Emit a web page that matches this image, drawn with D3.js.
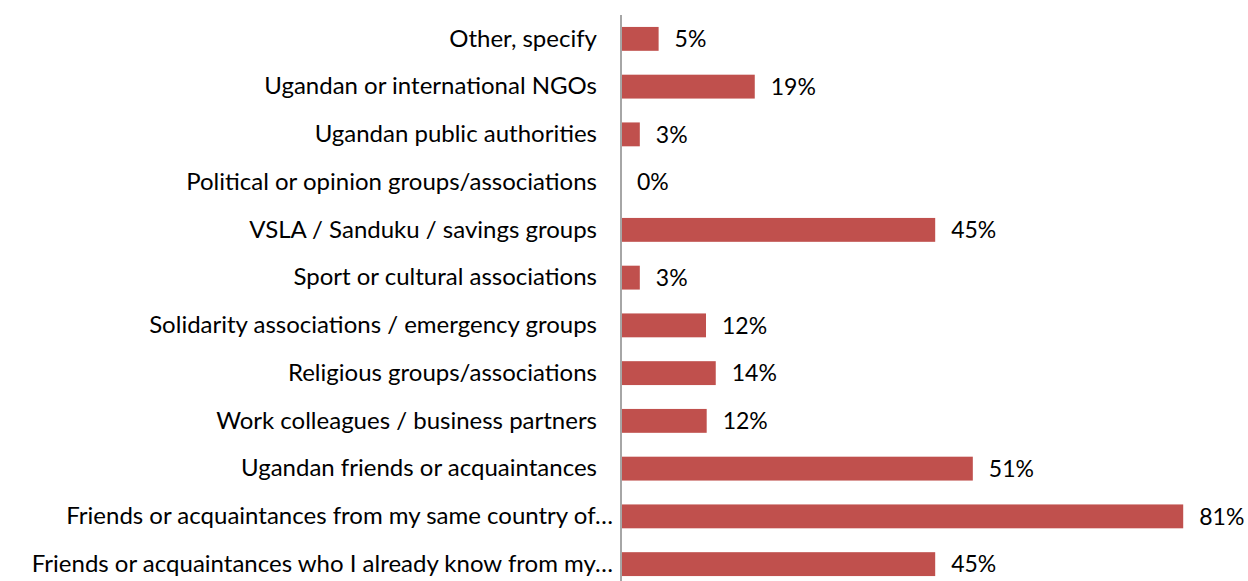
<!DOCTYPE html>
<html>
<head>
<meta charset="utf-8">
<script src="https://cdn.jsdelivr.net/npm/d3@7"></script>
<style>
  body { margin: 0; background: #fff; }
  text { font-family: Lato, "Open Sans", sans-serif; fill: #000; }
</style>
</head>
<body>
<div id="chart"></div>
<script>
// categories, top to bottom
var categories = [
    "Other, specify",
    "Ugandan or international NGOs",
    "Ugandan public authorities",
    "Political or opinion groups/associations",
    "VSLA / Sanduku / savings groups",
    "Sport or cultural associations",
    "Solidarity associations / emergency groups",
    "Religious groups/associations",
    "Work colleagues / business partners",
    "Ugandan friends or acquaintances",
    "Friends or acquaintances from my same country of\u2026",
    "Friends or acquaintances who I already know from my\u2026"
]
// share of respondents (%)
var shares = [5.4, 19.2, 2.7, 0, 45.1, 2.7, 12.2, 13.6, 12.3, 50.5, 80.7, 45.1]
// shown labels
var shareLabels = ["5%", "19%", "3%", "0%", "45%", "3%", "12%", "14%", "12%", "51%", "81%", "45%"]

var data = categories.map(function(c, i) {
    return {cat: c, value: shares[i], label: shareLabels[i]}
})

var width = 1248, height = 581

var svg = d3.select("#chart")
    .append("svg")
    .attr("width", width)
    .attr("height", height)

var x = d3.scaleLinear()
    .domain([0, 90])
    .range([621, 1248])

var y = d3.scaleBand()
    .domain(categories)
    .range([15, 588])
    .paddingInner(0.5)
    .paddingOuter(0.25)

// bars
svg.selectAll("rect.bar")
    .data(data)
    .enter()
    .append("rect")
    .attr("class", "bar")
    .attr("x", x(0))
    .attr("y", function(d) { return y(d.cat) })
    .attr("width", function(d) { return x(d.value) - x(0) })
    .attr("height", y.bandwidth())
    .attr("fill", "#c0504d")

// value labels
svg.selectAll("text.val")
    .data(data)
    .enter()
    .append("text")
    .attr("class", "val")
    .attr("x", function(d) { return x(d.value) + 16 })
    .attr("y", function(d) { return y(d.cat) + y.bandwidth() / 2 })
    .attr("dy", "0.36em")
    .style("font-size", "23px")
    .text(function(d) { return d.label })

// y axis (no ticks, just the line and labels)
var yAxis = svg.append("g")
    .attr("transform", "translate(" + x(0) + ",0)")
    .call(d3.axisLeft(y).tickSize(0).tickPadding(24))
yAxis.select(".domain")
    .attr("d", "M0," + 15 + "V" + height)
    .attr("stroke", "#a6a6a6")
    .attr("stroke-width", 2)
yAxis.selectAll(".tick text")
    .style("font-size", "24px")
    .attr("dx", function(d) { return d.endsWith("\u2026") ? 16 : 0 })
</script>
</body>
</html>
